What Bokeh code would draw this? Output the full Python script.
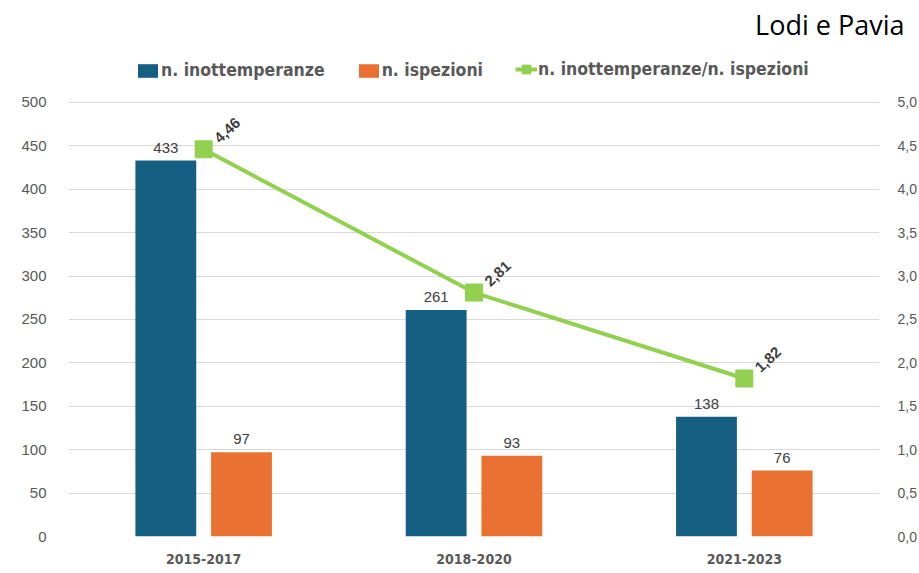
from bokeh.plotting import figure
from bokeh.models import (ColumnDataSource, Range1d, LinearAxis, FixedTicker, CustomJSTickFormatter,
                          Legend, LegendItem, Title)
from bokeh.transform import dodge
from bokeh.core.properties import value
from bokeh.embed import file_html
from bokeh.resources import INLINE

periods = ["2015-2017", "2018-2020", "2021-2023"]
inottemperanze = [433, 261, 138]
ispezioni = [97, 93, 76]
ratio = [4.46, 2.81, 1.82]
left_ticks = [0, 50, 100, 150, 200, 250, 300, 350, 400, 450, 500]
right_ticks = [0.0, 0.5, 1.0, 1.5, 2.0, 2.5, 3.0, 3.5, 4.0, 4.5, 5.0]
title_text = "Lodi e Pavia"

BLUE = "#156082"
ORANGE = "#E97132"
GREEN = "#92D050"
GRAY = "#595959"
NARROW = "DejaVu Sans Condensed, Roboto"

src = ColumnDataSource(dict(
    period=periods, inot=inottemperanze, isp=ispezioni, ratio=ratio,
    inot_lbl=[str(v) for v in inottemperanze],
    isp_lbl=[str(v) for v in ispezioni],
    ratio_lbl=[f"{v:.2f}".replace(".", ",") for v in ratio],
))

p = figure(width=919, height=573, x_range=periods, y_range=Range1d(0, 564.4),
           output_backend="svg", toolbar_location=None,
           min_border_left=68, min_border_right=38, min_border_top=45, min_border_bottom=37)
p.extra_y_ranges = {"ratio": Range1d(0, 5.644)}
p.outline_line_color = None
p.background_fill_color = "white"
p.border_fill_color = "white"

p.title = Title(text=title_text, align="right", offset=-25, standoff=7,
                text_font="Open Sans", text_font_size="27px", text_font_style="normal",
                text_color="black")

b1 = p.vbar(x=dodge("period", -0.14, range=p.x_range), top="inot", width=0.225,
            source=src, fill_color=BLUE, line_color=None)
b2 = p.vbar(x=dodge("period", 0.14, range=p.x_range), top="isp", width=0.225,
            source=src, fill_color=ORANGE, line_color=None)
ln = p.line(x="period", y="ratio", source=src, y_range_name="ratio",
            line_color=GREEN, line_width=4)
mk = p.scatter(x="period", y="ratio", source=src, y_range_name="ratio", marker="square",
               size=17, fill_color=GREEN, line_color=GREEN)

p.text(x=dodge("period", -0.14, range=p.x_range), y="inot", text="inot_lbl", source=src,
       text_align="center", text_baseline="bottom", y_offset=-8,
       text_font=value("Liberation Sans"), text_font_size="15px", text_color="#404040")
p.text(x=dodge("period", 0.14, range=p.x_range), y="isp", text="isp_lbl", source=src,
       text_align="center", text_baseline="bottom", y_offset=-8,
       text_font=value("Liberation Sans"), text_font_size="15px", text_color="#404040")
p.text(x="period", y="ratio", text="ratio_lbl", source=src, y_range_name="ratio",
       text_align="left", text_baseline="middle", x_offset=13, y_offset=-9, angle=0.75,
       text_font=value("Liberation Sans"), text_font_style="bold",
       text_font_size="15px", text_color="#404040")

# axes
p.yaxis.ticker = FixedTicker(ticks=left_ticks)
p.ygrid.ticker = FixedTicker(ticks=left_ticks)
p.ygrid.grid_line_color = "#d9d9d9"
p.xgrid.grid_line_color = None
for ax in p.yaxis:
    ax.axis_line_color = None
    ax.major_tick_line_color = None
    ax.minor_tick_line_color = None
    ax.major_label_text_color = GRAY
    ax.major_label_text_font = "Liberation Sans"
    ax.major_label_text_font_size = "15px"
    ax.major_label_standoff = 16

ry = LinearAxis(y_range_name="ratio", ticker=FixedTicker(ticks=right_ticks),
                formatter=CustomJSTickFormatter(code="return tick.toFixed(1).replace('.', ',');"))
ry.axis_line_color = None
ry.major_tick_line_color = None
ry.minor_tick_line_color = None
ry.major_label_text_color = GRAY
ry.major_label_text_font = "Liberation Sans"
ry.major_label_text_font_size = "14px"
ry.major_label_standoff = 12
p.add_layout(ry, "right")

p.xaxis.axis_line_color = None
p.xaxis.major_tick_line_color = None
p.xaxis.major_label_text_color = GRAY
p.xaxis.major_label_text_font = NARROW
p.xaxis.major_label_text_font_style = "bold"
p.xaxis.major_label_text_font_size = "14px"
p.xaxis.major_label_standoff = 11

# legends
legA = Legend(items=[LegendItem(label="n. inottemperanze", renderers=[b1]),
                     LegendItem(label="n. ispezioni", renderers=[b2])],
              orientation="horizontal", location=(67, 456), glyph_width=25, glyph_height=17,
              label_height=20, padding=0, spacing=31, label_standoff=1,
              border_line_color=None, background_fill_alpha=0,
              label_text_font=NARROW, label_text_font_style="bold",
              label_text_font_size="17.5px", label_text_color=GRAY)
legB = Legend(items=[LegendItem(label="n. inottemperanze/n. ispezioni", renderers=[ln, mk])],
              orientation="horizontal", location=(447, 451), glyph_width=22, glyph_height=32,
              label_height=20, padding=0, label_standoff=1,
              border_line_color=None, background_fill_alpha=0,
              label_text_font=NARROW, label_text_font_style="bold",
              label_text_font_size="17.5px", label_text_color=GRAY)
p.add_layout(legA)
p.add_layout(legB)

open("out.html", "w").write(file_html(p, INLINE))
